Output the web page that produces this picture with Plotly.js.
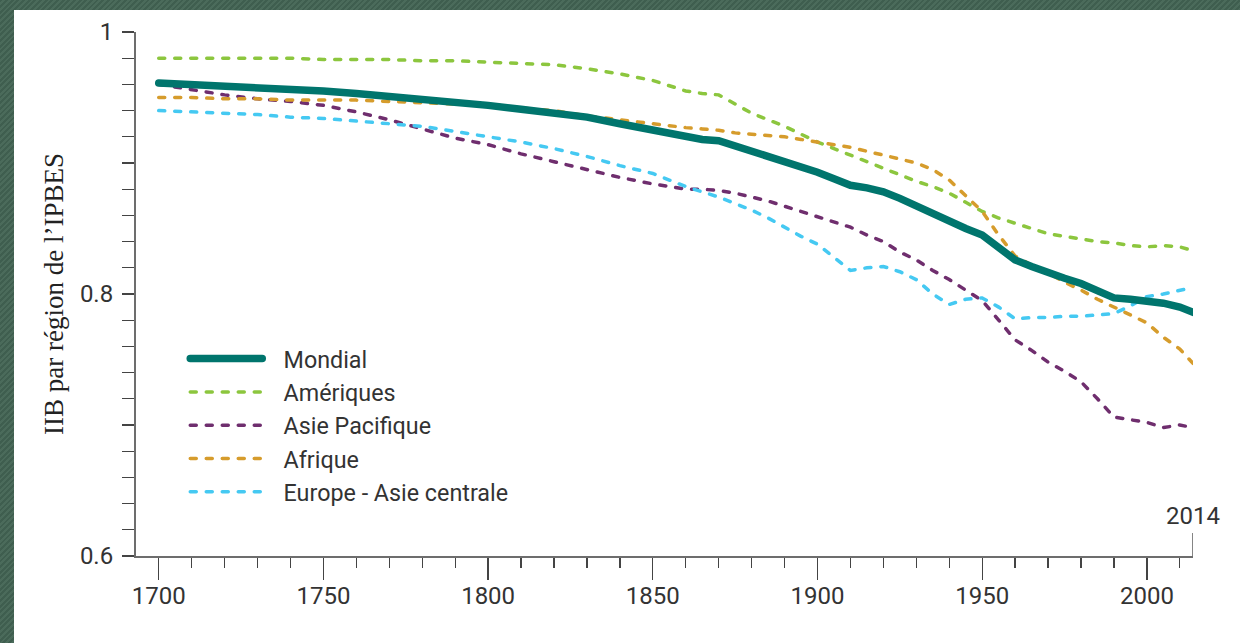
<!DOCTYPE html>
<html>
<head>
<meta charset="utf-8">
<script src="https://cdn.plot.ly/plotly-3.0.1.min.js"></script>
<style>
  html, body { margin:0; padding:0; width:1240px; height:643px; overflow:hidden;
    background: repeating-linear-gradient(135deg, #3f5e4f 0px, #3f5e4f 2px, #4b6b5b 2px, #4b6b5b 4px); }
  #chart { position:absolute; left:14px; top:10px; width:1226px; height:633px; background:#ffffff; }
  #chart path.js-line { stroke-linecap: round; }
</style>
</head>
<body>
<div id="chart"></div>
<script>
// ---- data ----
const years = [1700,1710,1720,1730,1740,1750,1760,1770,1780,1790,1800,1810,1820,1830,1840,1850,
  1855,1860,1865,1870,1875,1880,1885,1890,1895,1900,1905,1910,1915,1920,1925,1930,1935,1940,1945,
  1950,1955,1960,1965,1970,1975,1980,1985,1990,1995,2000,2005,2010,2014];

const mondial = [0.961,0.960,0.959,0.958,0.957,0.955,0.953,0.951,0.948,0.946,0.944,0.941,0.938,0.935,0.930,0.925,
  0.923,0.920,0.918,0.917,0.913,0.909,0.906,0.902,0.898,0.893,0.888,0.883,0.881,0.878,0.873,0.867,0.861,0.855,0.850,
  0.845,0.835,0.826,0.821,0.816,0.812,0.808,0.803,0.797,0.796,0.795,0.793,0.790,0.786];

const ameriques = [0.980,0.980,0.980,0.980,0.980,0.979,0.979,0.979,0.978,0.978,0.977,0.976,0.975,0.972,0.968,0.963,
  0.959,0.955,0.953,0.952,0.945,0.938,0.933,0.928,0.922,0.916,0.911,0.906,0.901,0.896,0.891,0.886,0.882,0.877,0.870,
  0.863,0.858,0.854,0.850,0.846,0.844,0.842,0.840,0.839,0.837,0.836,0.837,0.836,0.833];

const asiePacifique = [0.960,0.956,0.952,0.949,0.947,0.944,0.939,0.933,0.926,0.919,0.914,0.907,0.901,0.895,0.889,0.884,
  0.882,0.880,0.880,0.879,0.877,0.874,0.871,0.867,0.863,0.859,0.855,0.851,0.845,0.840,0.832,0.826,0.818,0.811,0.803,
  0.795,0.780,0.765,0.757,0.748,0.741,0.733,0.720,0.706,0.704,0.702,0.698,0.700,0.698];

const afrique = [0.950,0.950,0.949,0.949,0.948,0.948,0.948,0.947,0.946,0.945,0.945,0.942,0.940,0.936,0.933,0.930,
  0.928,0.927,0.926,0.925,0.923,0.922,0.921,0.920,0.918,0.916,0.914,0.912,0.909,0.906,0.903,0.900,0.895,0.887,0.875,
  0.863,0.845,0.829,0.822,0.816,0.809,0.803,0.796,0.790,0.784,0.778,0.767,0.758,0.747];

const europeAsie = [0.940,0.939,0.938,0.937,0.935,0.934,0.932,0.930,0.928,0.924,0.920,0.916,0.911,0.905,0.898,0.892,
  0.887,0.882,0.878,0.874,0.869,0.864,0.858,0.851,0.844,0.838,0.828,0.818,0.820,0.821,0.817,0.811,0.800,0.792,0.796,
  0.797,0.790,0.781,0.782,0.782,0.783,0.783,0.784,0.785,0.791,0.798,0.800,0.803,0.805];

const seriesNames = ['Mondial','Amériques','Asie Pacifique','Afrique','Europe - Asie centrale'];
const xTickVals = [1700,1750,1800,1850,1900,1950,2000];
const yTickVals = [0.6,0.8,1];
const yTickText = ['0.6','0.8','1'];
const endYear = 2014;
const yTitle = "IIB par région de l’IPBES";

// ---- styling ----
const txt = '#333333';
const dash = '6px,10px';
const pad = '\u00A0\u00A0\u2009';   // visual gap between legend sample and label
function dashed(y, name, color, rank){
  return {x: years, y: y, name: pad + name, type:'scatter', mode:'lines', legendrank: rank,
          line:{color: color, width: 3.5, dash: dash}};
}
const traces = [
  dashed(ameriques, seriesNames[1], '#8cc63e', 2),
  dashed(asiePacifique, seriesNames[2], '#6f2e6e', 3),
  dashed(afrique, seriesNames[3], '#d69c2c', 4),
  dashed(europeAsie, seriesNames[4], '#45c9f2', 5),
  {x: years, y: mondial, name: pad + seriesNames[0], type:'scatter', mode:'lines', legendrank: 1,
   line:{color:'#00756d', width: 7.5}}
];

const layout = {
  width: 1226, height: 633,
  margin: {l:122, r:47, t:21.7, b:87},
  paper_bgcolor:'#ffffff', plot_bgcolor:'#ffffff',
  font: {family:'Roboto, sans-serif', size:24, color: txt},
  showlegend: true,
  legend: {x:0.0466, xanchor:'left', y:0.418, yanchor:'top', bgcolor:'rgba(0,0,0,0)',
           itemwidth: 72, font:{size:23.3, color: txt}, traceorder:'normal'},
  xaxis: {range:[1693.1, endYear], showgrid:false, zeroline:false, showline:true,
          linecolor:'#6d6d6d', linewidth:2, ticks:'outside', ticklen:22, tickwidth:1.3,
          tickcolor:'#444', tickmode:'array', tickvals:xTickVals,
          tickfont:{size:24, color: txt}, ticklabelstandoff: -5,
          minor:{tickmode:'linear', tick0:1700, dtick:10, ticks:'outside', ticklen:10,
                 tickwidth:1.3, tickcolor:'#444', showgrid:false}},
  yaxis: {range:[0.6, 1.0], showgrid:false, zeroline:false, showline:true,
          linecolor:'#6d6d6d', linewidth:2, ticks:'outside', ticklen:12, tickwidth:1.3,
          tickcolor:'#444', tickmode:'array', tickvals:yTickVals, ticktext:yTickText,
          tickfont:{size:24, color: txt}, ticklabelstandoff: 4,
          minor:{tickmode:'linear', tick0:0.6, dtick:0.02, ticks:'outside', ticklen:12,
                 tickwidth:1.3, tickcolor:'#444', showgrid:false},
          title:{text: yTitle, font:{family:'"Liberation Serif", "Times New Roman", serif', size:27, color:'#222'},
                 standoff: 8}},
  shapes: [{type:'line', xref:'x', yref:'paper', x0:endYear, x1:endYear, y0:0, y1:0.044,
            line:{color:'#444', width:1.3}, layer:'above'}],
  annotations: [{x:endYear, xref:'x', y:0.046, yref:'paper', yanchor:'bottom', xanchor:'center',
                 text:String(endYear), showarrow:false, font:{size:24, color: txt}}],
  hovermode:false
};

Plotly.newPlot('chart', traces, layout, {displayModeBar:false, staticPlot:true});
</script>
</body>
</html>
